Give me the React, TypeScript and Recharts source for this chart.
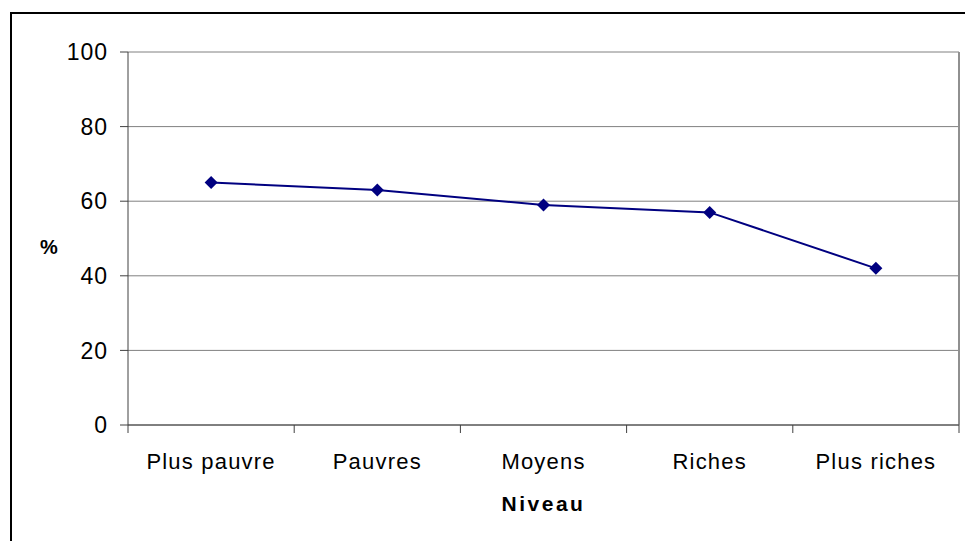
import { LineChart, Line, XAxis, YAxis, CartesianGrid, ReferenceLine } from "recharts";

const categories = ["Plus pauvre", "Pauvres", "Moyens", "Riches", "Plus riches"];
const values = [65, 63, 59, 57, 42];
const yTicks = [0, 20, 40, 60, 80, 100];

const data = categories.map((name, i) => ({ name, x: i + 0.5, value: values[i] }));
const xTicks = [0, 0.5, 1, 1.5, 2, 2.5, 3, 3.5, 4, 4.5, 5];

const FONT = "'Liberation Sans', Arial, sans-serif";

function XTick({ x, y, payload }: any) {
  const v = payload.value as number;
  if (Number.isInteger(v)) {
    return <line x1={x} x2={x} y1={y - 8} y2={y} stroke="#404040" strokeWidth={1} />;
  }
  return (
    <text x={x} y={y + 36} textAnchor="middle" fontSize={22} fill="#000" fontFamily={FONT} letterSpacing={1.2}>
      {categories[Math.floor(v)]}
    </text>
  );
}

function Diamond({ cx, cy }: any) {
  const r = 6.5;
  return (
    <polygon
      points={`${cx},${cy - r} ${cx + r},${cy} ${cx},${cy + r} ${cx - r},${cy}`}
      fill="#000080"
      stroke="none"
    />
  );
}

export default function App() {
  return (
    <div style={{ position: "absolute", left: 0, top: 0, width: 965, height: 541, background: "#fff", overflow: "hidden" }}>
      <div
        style={{
          position: "absolute",
          left: 10,
          top: 12,
          width: 980,
          height: 560,
          border: "2px solid #000",
          boxSizing: "border-box",
        }}
      />
      <LineChart
        width={965}
        height={541}
        data={data}
        margin={{ top: 52, right: 6, bottom: 8, left: 0 }}
        style={{ position: "absolute", left: 0, top: 0, fontFamily: FONT }}
      >
        <CartesianGrid vertical={false} stroke="#808080" />
        <XAxis
          dataKey="x"
          type="number"
          domain={[0, 5]}
          ticks={xTicks}
          interval={0}
          tick={<XTick />}
          tickLine={false}
          axisLine={{ stroke: "#404040" }}
          height={108}
          label={{
            value: "Niveau",
            position: "insideBottom",
            offset: 22,
            fill: "#000",
            fontSize: 21,
            fontWeight: "bold",
            letterSpacing: 2.5,
          }}
        />
        <YAxis
          domain={[0, 100]}
          ticks={yTicks}
          interval={0}
          width={128}
          tickSize={8}
          tickMargin={12}
          tick={{ fontSize: 23, fill: "#000", letterSpacing: 1 }}
          tickLine={{ stroke: "#404040" }}
          axisLine={{ stroke: "#404040" }}
          label={{
            value: "%",
            position: "insideLeft",
            offset: 40,
            dy: 8,
            fill: "#000",
            fontSize: 20,
            fontWeight: "bold",
          }}
        />
        <ReferenceLine x={5} stroke="#909090" strokeWidth={2} />
        <Line
          dataKey="value"
          stroke="#000080"
          strokeWidth={2}
          dot={<Diamond />}
          activeDot={false}
          isAnimationActive={false}
        />
      </LineChart>
    </div>
  );
}
